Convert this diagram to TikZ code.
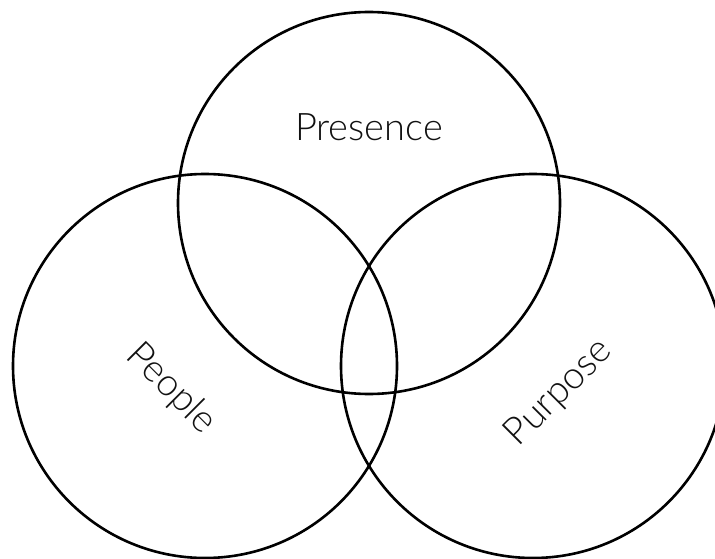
\documentclass[tikz,border=0pt]{standalone}
\usepackage{fontspec}
\setmainfont{Lato Light}
\usepackage{xcolor}
\definecolor{vennline}{HTML}{000000}
\definecolor{venntext}{HTML}{111111}
\tikzset{
  ring/.style={draw=vennline,line width=2.6pt},
  tag/.style={text=venntext,inner sep=0pt,font=\fontsize{38}{42}\selectfont}
}
\begin{document}
\begin{tikzpicture}[x=1pt,y=-1pt]
  \clip (0,0) rectangle (715,559);
  \draw[ring] (369,203) circle[radius=191pt];
  \draw[ring] (205,366) circle[radius=192pt];
  \draw[ring] (533,366) circle[radius=192pt];
  \node[tag,anchor=base] (presence) at (369,141) {Presence};
  \node[tag,rotate=-45] (people) at (171,389) {People};
  \node[tag,rotate=45] (purpose) at (559,393) {Purpose};
\end{tikzpicture}
\end{document}
